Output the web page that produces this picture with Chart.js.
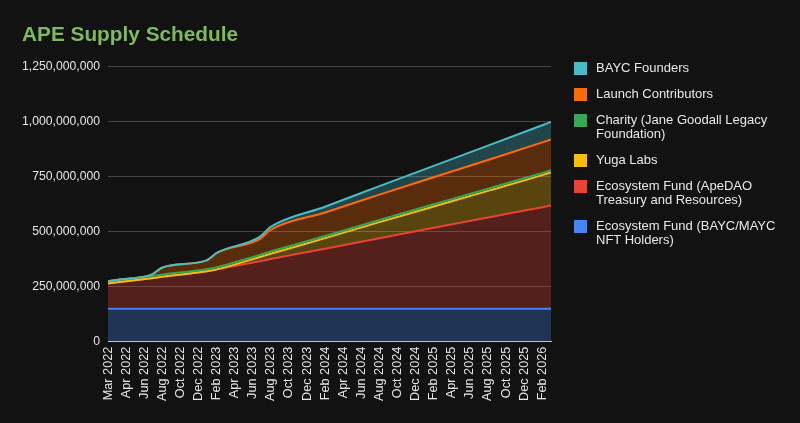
<!DOCTYPE html>
<html>
<head>
<meta charset="utf-8">
<title>APE Supply Schedule</title>
<script src="https://cdn.jsdelivr.net/npm/chart.js@4.4.1/dist/chart.umd.min.js"></script>
<style>
  html, body { margin: 0; padding: 0; background: #121212; }
  #wrap { position: relative; width: 800px; height: 423px; background: #121212; }
  #legend {
    position: absolute; left: 574px; top: 61px; width: 224px;
    font: 13px 'Liberation Sans', Arial, sans-serif; color: #e8e8e8;
  }
  .item { display: flex; align-items: flex-start; margin-bottom: 12px; }
  .swatch { width: 13px; height: 13px; margin-top: 1px; margin-right: 9px; flex: none; }
  .text { line-height: 14px; max-width: 196px; }
</style>
</head>
<body>
<div id="wrap">
  <canvas id="chart"></canvas>
  <div id="legend"></div>
</div>
<script>
// days since start of March 2022
const dayOffsets = [0, 30, 144, 183, 327, 362, 503, 539, 720, 900, 1080, 1260, 1440, 1469];

// unlocked APE per allocation, in millions (stacked bottom -> top)
const nftHolders         = [150, 150, 150, 150, 150, 150, 150, 150, 150, 150, 150, 150, 150, 150];
const apeDao             = [115, 120, 139, 146, 170, 179, 216, 226, 273, 321, 368, 415, 462, 470];
const yugaLabs           = [0, 0, 0, 0, 0, 0, 19, 24, 48, 73, 97, 121, 146, 150];
const charity            = [10, 10, 10, 10, 10, 10, 10, 10, 10, 10, 10, 10, 10, 10];
const launchContributors = [0, 1, 6, 33, 40, 66, 72, 99, 107, 115, 123, 131, 139, 140];
const baycFounders       = [0, 0, 0, 0, 0, 0, 10, 13, 26, 39, 52, 65, 78, 80];

const tickDays = [0, 60, 120, 180, 240, 300, 360, 420, 480, 540, 600, 660, 720,
  780, 840, 900, 960, 1020, 1080, 1140, 1200, 1260, 1320, 1380, 1440];
const tickLabels = ['Mar 2022', 'Apr 2022', 'Jun 2022', 'Aug 2022', 'Oct 2022', 'Dec 2022',
  'Feb 2023', 'Apr 2023', 'Jun 2023', 'Aug 2023', 'Oct 2023', 'Dec 2023',
  'Feb 2024', 'Apr 2024', 'Jun 2024', 'Aug 2024', 'Oct 2024', 'Dec 2024',
  'Feb 2025', 'Apr 2025', 'Jun 2025', 'Aug 2025', 'Oct 2025', 'Dec 2025', 'Feb 2026'];

const seriesNames = [
  'Ecosystem Fund (BAYC/MAYC NFT Holders)',
  'Ecosystem Fund (ApeDAO Treasury and Resources)',
  'Yuga Labs',
  'Charity (Jane Goodall Legacy Foundation)',
  'Launch Contributors',
  'BAYC Founders'
];
const seriesColors = ['#4285f4', '#ea4335', '#fbbc04', '#34a853', '#ff6d01', '#46bdc6'];
const seriesValues = [nftHolders, apeDao, yugaLabs, charity, launchContributors, baycFounders];

const FONT = "'Liberation Sans', Arial, sans-serif";
Chart.defaults.font.family = FONT;
Chart.defaults.color = '#e6e6e6';

const withAlpha = (hex, a) => {
  const n = parseInt(hex.slice(1), 16);
  return `rgba(${n >> 16}, ${(n >> 8) & 255}, ${n & 255}, ${a})`;
};

// running totals so each area sits on top of the one below
const running = dayOffsets.map(() => 0);
const datasets = seriesValues.map((vals, i) => {
  const points = dayOffsets.map((d, j) => {
    running[j] += vals[j];
    return { x: d, y: running[j] };
  });
  return {
    label: seriesNames[i],
    data: points,
    borderColor: seriesColors[i],
    backgroundColor: withAlpha(seriesColors[i], 0.3),
    borderWidth: 2,
    pointRadius: 0,
    fill: i === 0 ? 'origin' : '-1',
    order: seriesValues.length - i,
    cubicInterpolationMode: 'monotone'
  };
});

new Chart(document.getElementById('chart'), {
  type: 'line',
  data: { datasets },
  options: {
    responsive: true,
    maintainAspectRatio: false,
    animation: false,
    layout: { padding: { left: 22, right: 249, top: 0, bottom: 17 } },
    plugins: {
      legend: { display: false },
      tooltip: { enabled: false },
      filler: { drawTime: 'beforeDatasetsDraw' },
      title: {
        display: true,
        text: 'APE Supply Schedule',
        align: 'start',
        color: '#7dbb5b',
        font: { family: FONT, size: 20.8, weight: 'bold' },
        padding: { top: 23, bottom: 19 }
      }
    },
    scales: {
      x: {
        type: 'linear',
        min: 0,
        max: 1469,
        afterBuildTicks: (axis) => {
          axis.ticks = tickDays.map((v) => ({ value: v }));
        },
        ticks: {
          autoSkip: false,
          minRotation: 90,
          maxRotation: 90,
          padding: 5,
          font: { size: 12.7 },
          callback: (value, index) => tickLabels[index]
        },
        grid: { display: false, drawTicks: false },
        border: { display: true, color: '#cccccc', width: 1 }
      },
      y: {
        min: 0,
        max: 1250,
        afterFit: (axis) => { axis.width = 86; },
        ticks: {
          stepSize: 250,
          padding: 8,
          font: { size: 12.2 },
          callback: (value) => (value * 1e6).toLocaleString('en-US')
        },
        grid: {
          drawTicks: false,
          color: (ctx) => (ctx.tick && ctx.tick.value === 0 ? 'rgba(0,0,0,0)' : 'rgba(255,255,255,0.22)')
        },
        border: { display: false }
      }
    }
  }
});

// legend lists the top of the stack first
const legend = document.getElementById('legend');
for (let i = seriesNames.length - 1; i >= 0; i--) {
  const item = document.createElement('div');
  item.className = 'item';
  item.innerHTML = `<span class="swatch" style="background:${seriesColors[i]}"></span><span class="text">${seriesNames[i]}</span>`;
  legend.appendChild(item);
}
</script>
</body>
</html>
